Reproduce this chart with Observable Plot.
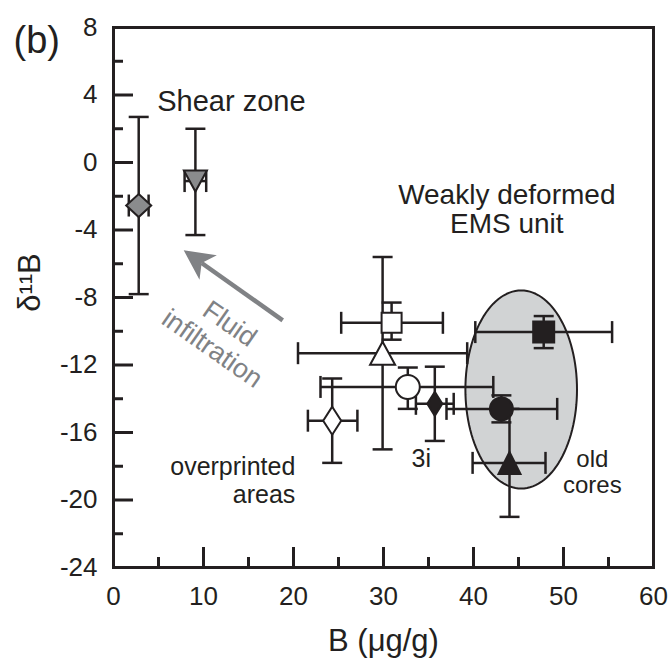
<!DOCTYPE html>
<html><head><meta charset="utf-8">
<script src="https://cdn.jsdelivr.net/npm/d3@7"></script>
<script src="https://cdn.jsdelivr.net/npm/@observablehq/plot@0.6"></script>
<style>
body{margin:0;background:#fff;}
#chart svg{font-family:"Liberation Sans",Arial,Helvetica,sans-serif;background:#fff;overflow:visible;}
</style></head><body><div id="chart"></div>
<script>
// ---- axis ticks ----
const xTicks = [0, 10, 20, 30, 40, 50, 60];
const xMinor = [5, 15, 25, 35, 45, 55];
const yTicks = [-24, -20, -16, -12, -8, -4, 0, 4, 8];
const yMinor = [-22, -18, -14, -10, -6, -2, 2, 6];

// ---- samples (B in µg/g, δ11B) ----
const names = ["shear-diamond", "shear-triangle", "open-square", "open-triangle", "open-circle",
               "open-diamond", "black-diamond-3i", "black-circle", "black-square", "black-triangle"];
const bVals  = [2.8, 9.1, 30.9, 29.9, 32.7, 24.3, 35.7, 43.1, 47.8, 44.0];
const bLow   = [1.7, 7.9, 25.3, 20.5, 23.0, 21.6, 33.6, 37.0, 40.2, 39.9];
const bHigh  = [3.9, 10.3, 36.6, 39.3, 42.2, 27.1, 37.8, 49.3, 55.4, 48.0];
const dVals  = [-2.55, -1.1, -9.5, -11.3, -13.3, -15.3, -14.3, -14.6, -10.05, -17.8];
const dLow   = [-7.8, -4.3, -10.5, -17.0, -14.6, -17.8, -16.5, -15.4, -11.0, -21.0];
const dHigh  = [2.7, 2.0, -8.3, -5.6, -12.15, -12.8, -12.1, -13.8, -9.1, -14.6];

// ---- "old cores" ellipse (center, radii in data units) ----
const ellipseCenter = [45.3, -13.45];
const ellipseRadii = [6.2, 5.87];

// ---- fluid infiltration arrow ----
const arrowTail = [18.8, -9.36];
const arrowTip = [7.8, -5.2];

// ---- annotations ----
const labelTexts = ["Shear zone", "Weakly deformed\nEMS unit", "overprinted\nareas", "3i", "old\ncores"];
const labelX = [13.1, 43.7, 20.2, 34.2, 53.2];
const labelY = [3.08, -4.2, -20.15, -18.07, -19.6];
const fluidText = "Fluid\ninfiltration";
const fluidPos = [12.0, -10.25];

// ---------------- layout ----------------
const W = 671, H = 659;
const mL = 113, mR = 18, mT = 27, mB = 92;
const pw = W - mL - mR, ph = H - mT - mB;
const ink = "#231f20";
const grayMark = "#8a8b8d";
const grayArrow = "#808285";

const rows = names.map((n, i) => ({name: n, b: bVals[i], bl: bLow[i], bh: bHigh[i], d: dVals[i], dl: dLow[i], dh: dHigh[i]}));

// custom symbols (pixel shapes)
const sym = f => ({draw(c) { f(c); }});
const square = s => sym(c => { c.moveTo(-s, -s); c.lineTo(s, -s); c.lineTo(s, s); c.lineTo(-s, s); c.closePath(); });
const circle = r => sym(c => { c.moveTo(r, 0); c.arc(0, 0, r, 0, 2 * Math.PI); c.closePath(); });
const diamond = (w, h) => sym(c => { c.moveTo(0, -h); c.lineTo(w, 0); c.lineTo(0, h); c.lineTo(-w, 0); c.closePath(); });
const triUp = (w, h) => sym(c => { c.moveTo(0, -h); c.lineTo(w, h); c.lineTo(-w, h); c.closePath(); });
const triDown = (w, h) => sym(c => { c.moveTo(-w, -h); c.lineTo(w, -h); c.lineTo(0, h); c.closePath(); });
const hcap = sym(c => { c.moveTo(-10, 0); c.lineTo(10, 0); });
const vcap = sym(c => { c.moveTo(0, -11); c.lineTo(0, 11); });

const styles = {
  "shear-diamond":   {symbol: diamond(12.5, 11.5), fill: grayMark},
  "shear-triangle":  {symbol: triDown(11.5, 10.5), fill: grayMark},
  "open-square":     {symbol: square(10), fill: "white"},
  "open-triangle":   {symbol: triUp(12.5, 11.5), fill: "white"},
  "open-circle":     {symbol: circle(12), fill: "white"},
  "open-diamond":    {symbol: diamond(9, 14), fill: "white"},
  "black-diamond-3i":{symbol: diamond(7.5, 12), fill: ink},
  "black-circle":    {symbol: circle(11.5), fill: ink},
  "black-square":    {symbol: square(10.5), fill: ink},
  "black-triangle":  {symbol: triUp(11, 11), fill: ink}
};

// ellipse outline
const ellipsePts = d3.range(0, 361, 3).map(a => {
  const t = a * Math.PI / 180;
  return [ellipseCenter[0] + ellipseRadii[0] * Math.cos(t), ellipseCenter[1] + ellipseRadii[1] * Math.sin(t)];
});

// arrow geometry (pixel direction from layout scales)
const kx = pw / 60, ky = ph / 32;
const adx = (arrowTip[0] - arrowTail[0]) * kx, ady = -(arrowTip[1] - arrowTail[1]) * ky;
const ang = Math.atan2(ady, adx);
const alen = Math.hypot(adx, ady);
const headL = 30, headW = 15, headN = 8;
const shaftFrac = (headL - headN) / alen;
const shaftEnd = [arrowTip[0] + (arrowTail[0] - arrowTip[0]) * shaftFrac, arrowTip[1] + (arrowTail[1] - arrowTip[1]) * shaftFrac];
const rot = (u, v) => [u * Math.cos(ang) - v * Math.sin(ang), u * Math.sin(ang) + v * Math.cos(ang)];
const arrowHead = sym(c => {
  const p0 = rot(0, 0), p1 = rot(-headL, headW), p2 = rot(-headL + headN, 0), p3 = rot(-headL, -headW);
  c.moveTo(...p0); c.lineTo(...p1); c.lineTo(...p2); c.lineTo(...p3); c.closePath();
});

const marks = [
  // ellipse
  Plot.line(ellipsePts, {x: d => d[0], y: d => d[1], curve: "linear-closed", fill: "#d1d3d4", stroke: ink, strokeWidth: 2}),
  // arrow
  Plot.link([0], {x1: () => arrowTail[0], y1: () => arrowTail[1], x2: () => shaftEnd[0], y2: () => shaftEnd[1], stroke: grayArrow, strokeWidth: 4.5}),
  Plot.dot([0], {x: () => arrowTip[0], y: () => arrowTip[1], symbol: arrowHead, fill: grayArrow, stroke: "none"}),
  Plot.text([fluidText], {x: () => fluidPos[0], y: () => fluidPos[1], text: d => d, rotate: 35, fill: grayArrow, fontSize: 27, lineAnchor: "middle", textAnchor: "middle", lineHeight: 1.12}),
  // error bars
  Plot.ruleX(rows, {x: "b", y1: "dl", y2: "dh", stroke: ink, strokeWidth: 2.5}),
  Plot.ruleY(rows, {y: "d", x1: "bl", x2: "bh", stroke: ink, strokeWidth: 2.5}),
  Plot.dot(rows, {x: "b", y: "dl", symbol: hcap, fill: "none", stroke: ink, strokeWidth: 2.5}),
  Plot.dot(rows, {x: "b", y: "dh", symbol: hcap, fill: "none", stroke: ink, strokeWidth: 2.5}),
  Plot.dot(rows, {x: "bl", y: "d", symbol: vcap, fill: "none", stroke: ink, strokeWidth: 2.5}),
  Plot.dot(rows, {x: "bh", y: "d", symbol: vcap, fill: "none", stroke: ink, strokeWidth: 2.5}),
  // markers
  ...rows.map(r => Plot.dot([r], {x: "b", y: "d", symbol: styles[r.name].symbol, fill: styles[r.name].fill, stroke: ink, strokeWidth: 2})),
  // annotations
  Plot.text([0], {x: () => labelX[0], y: () => labelY[0], text: () => labelTexts[0], fontSize: 29, lineAnchor: "bottom", textAnchor: "middle", fill: ink}),
  Plot.text([1], {x: () => labelX[1], y: () => labelY[1], text: () => labelTexts[1], fontSize: 28, lineHeight: 1.04, lineAnchor: "bottom", textAnchor: "middle", fill: ink}),
  Plot.text([2], {x: () => labelX[2], y: () => labelY[2], text: () => labelTexts[2], fontSize: 25, lineHeight: 1.1, lineAnchor: "bottom", textAnchor: "end", fill: ink}),
  Plot.text([3], {x: () => labelX[3], y: () => labelY[3], text: () => labelTexts[3], fontSize: 25, lineAnchor: "bottom", textAnchor: "middle", fill: ink}),
  Plot.text([4], {x: () => labelX[4], y: () => labelY[4], text: () => labelTexts[4], fontSize: 24, lineHeight: 1.08, lineAnchor: "bottom", textAnchor: "middle", fill: ink}),
  // inward ticks
  Plot.tickX(xTicks, {x: d => d, insetTop: ph - 20, stroke: ink, strokeWidth: 3}),
  Plot.tickX(xMinor, {x: d => d, insetTop: ph - 10, stroke: ink, strokeWidth: 3}),
  Plot.tickY(yTicks, {y: d => d, insetRight: pw - 20, stroke: ink, strokeWidth: 3}),
  Plot.tickY(yMinor, {y: d => d, insetRight: pw - 10, stroke: ink, strokeWidth: 3}),
  Plot.frame({stroke: ink, strokeWidth: 3}),
  // tick labels
  Plot.text(xTicks, {x: d => d, text: d => String(d), frameAnchor: "bottom", dy: 29, lineAnchor: "middle", textAnchor: "middle", fontSize: 26, fill: ink}),
  Plot.text(yTicks, {y: d => d, text: d => String(d), frameAnchor: "left", dx: -16, lineAnchor: "middle", textAnchor: "end", fontSize: 26, fill: ink}),
  // axis titles and panel label
  Plot.text(["B (\u03bcg/g)"], {frameAnchor: "bottom", dy: 83, lineAnchor: "bottom", textAnchor: "middle", fontSize: 31, fill: ink}),
  Plot.text(["\u03b4\u00b9\u00b9B"], {frameAnchor: "left", dx: -83.5, dy: -15, rotate: -90, lineAnchor: "middle", textAnchor: "middle", fontSize: 31, fill: ink}),
  Plot.text(["(b)"], {frameAnchor: "top-left", dx: -100, dy: 25, lineAnchor: "bottom", textAnchor: "start", fontSize: 38, fill: ink})
];

const chart = Plot.plot({
  width: W, height: H,
  marginLeft: mL, marginRight: mR, marginTop: mT, marginBottom: mB,
  x: {domain: [0, 60], axis: null},
  y: {domain: [-24, 8], axis: null},
  style: {background: "white", fontFamily: "'Liberation Sans', Arial, Helvetica, sans-serif"},
  marks
});
document.getElementById("chart").appendChild(chart);
</script>
</body></html>
